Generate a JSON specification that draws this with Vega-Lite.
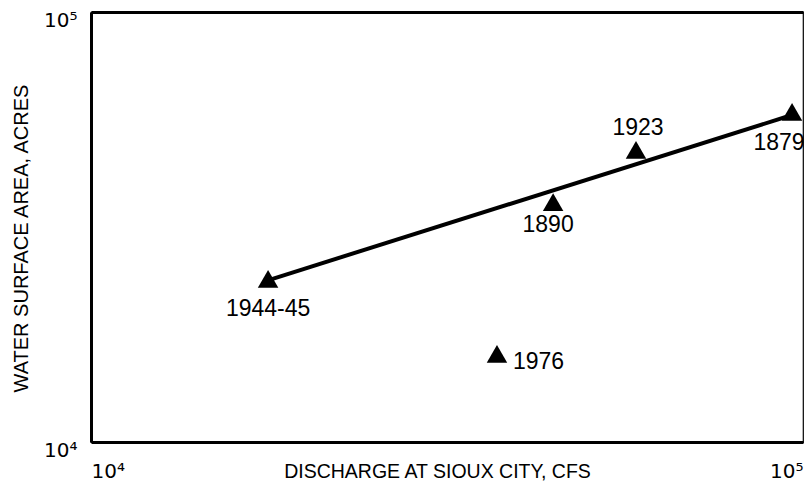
{
  "$schema": "https://vega.github.io/schema/vega-lite/v6.json",
  "width": 712,
  "height": 430,
  "autosize": {"type": "none"},
  "padding": {"left": 91, "top": 12, "right": 3, "bottom": 39},
  "background": "white",
  "config": {
    "view": {"stroke": "black", "strokeWidth": 1.2},
    "font": "Liberation Sans",
    "axis": {"domainColor": "black", "domainWidth": 3, "ticks": false, "grid": false, "labelColor": "black", "titleColor": "black", "labelFont": "DejaVu Sans", "titleFont": "Liberation Sans"}
  },
  "datasets": {
    "pts": [
      {"year": "1944-45", "discharge": 17730, "area": 23940},
      {"year": "1976", "discharge": 37170, "area": 16030},
      {"year": "1890", "discharge": 44570, "area": 36150},
      {"year": "1923", "discharge": 58270, "area": 47770},
      {"year": "1879", "discharge": 96520, "area": 58540}
    ],
    "fit": [
      {"discharge": 17900, "area": 23900},
      {"discharge": 96500, "area": 57600}
    ]
  },
  "layer": [
    {
      "data": {"name": "fit"},
      "mark": {"type": "line", "color": "black", "strokeWidth": 4},
      "encoding": {
        "x": {"field": "discharge", "type": "quantitative", "scale": {"type": "log", "domain": [10000, 100000], "nice": false},
              "axis": {"orient": "top", "labels": false, "title": null, "domainWidth": 3}},
        "y": {"field": "area", "type": "quantitative", "scale": {"type": "log", "domain": [10000, 100000], "nice": false}}
      }
    },
    {
      "data": {"name": "pts"},
      "mark": {"type": "point", "shape": "triangle-up", "filled": true, "color": "black", "opacity": 1, "size": 420},
      "encoding": {
        "x": {"field": "discharge", "type": "quantitative",
              "axis": {"orient": "bottom", "values": [10000, 100000], "labelExpr": "datum.value >= 100000 ? '10⁵' : '10⁴'", "labelFlush": true, "labelBaseline": "top", "labelPadding": 19, "labelFontSize": 20,
                       "title": "DISCHARGE AT SIOUX CITY, CFS", "titleFontSize": 19.5, "titleFontWeight": "normal", "titleX": 346, "titleY": 20, "titleBaseline": "top", "titleAlign": "center"}},
        "y": {"field": "area", "type": "quantitative",
              "axis": {"values": [10000, 100000], "labelExpr": "datum.value >= 100000 ? '10⁵' : '10⁴'", "labelFlush": false, "labelBaseline": "top", "labelPadding": 14, "labelFontSize": 20, "labelOffset": -2,
                       "title": "WATER SURFACE AREA, ACRES", "titleFontSize": 20, "titleFontWeight": "normal", "titleX": -70, "titleY": 226, "titleAngle": -90, "titleAlign": "center", "titleBaseline": "middle"}}
      }
    },
    {
      "data": {"name": "pts"},
      "transform": [{"filter": "datum.year == '1944-45'"}],
      "mark": {"type": "text", "fontSize": 23, "color": "black", "align": "center", "baseline": "middle", "dx": 0, "dy": 30},
      "encoding": {"x": {"field": "discharge", "type": "quantitative", "axis": null}, "y": {"field": "area", "type": "quantitative"}, "text": {"field": "year"}}
    },
    {
      "data": {"name": "pts"},
      "transform": [{"filter": "datum.year == '1976'"}],
      "mark": {"type": "text", "fontSize": 23, "color": "black", "align": "left", "baseline": "middle", "dx": 16, "dy": 8},
      "encoding": {"x": {"field": "discharge", "type": "quantitative", "axis": null}, "y": {"field": "area", "type": "quantitative"}, "text": {"field": "year"}}
    },
    {
      "data": {"name": "pts"},
      "transform": [{"filter": "datum.year == '1890'"}],
      "mark": {"type": "text", "fontSize": 23, "color": "black", "align": "center", "baseline": "middle", "dx": -5, "dy": 23},
      "encoding": {"x": {"field": "discharge", "type": "quantitative", "axis": null}, "y": {"field": "area", "type": "quantitative"}, "text": {"field": "year"}}
    },
    {
      "data": {"name": "pts"},
      "transform": [{"filter": "datum.year == '1923'"}],
      "mark": {"type": "text", "fontSize": 23, "color": "black", "align": "center", "baseline": "middle", "dx": 2, "dy": -22},
      "encoding": {"x": {"field": "discharge", "type": "quantitative", "axis": null}, "y": {"field": "area", "type": "quantitative"}, "text": {"field": "year"}}
    },
    {
      "data": {"name": "pts"},
      "transform": [{"filter": "datum.year == '1879'"}],
      "mark": {"type": "text", "fontSize": 23, "color": "black", "align": "center", "baseline": "middle", "dx": -13, "dy": 31},
      "encoding": {"x": {"field": "discharge", "type": "quantitative", "axis": null}, "y": {"field": "area", "type": "quantitative"}, "text": {"field": "year"}}
    }
  ],
  "resolve": {"axis": {"x": "independent"}}
}
